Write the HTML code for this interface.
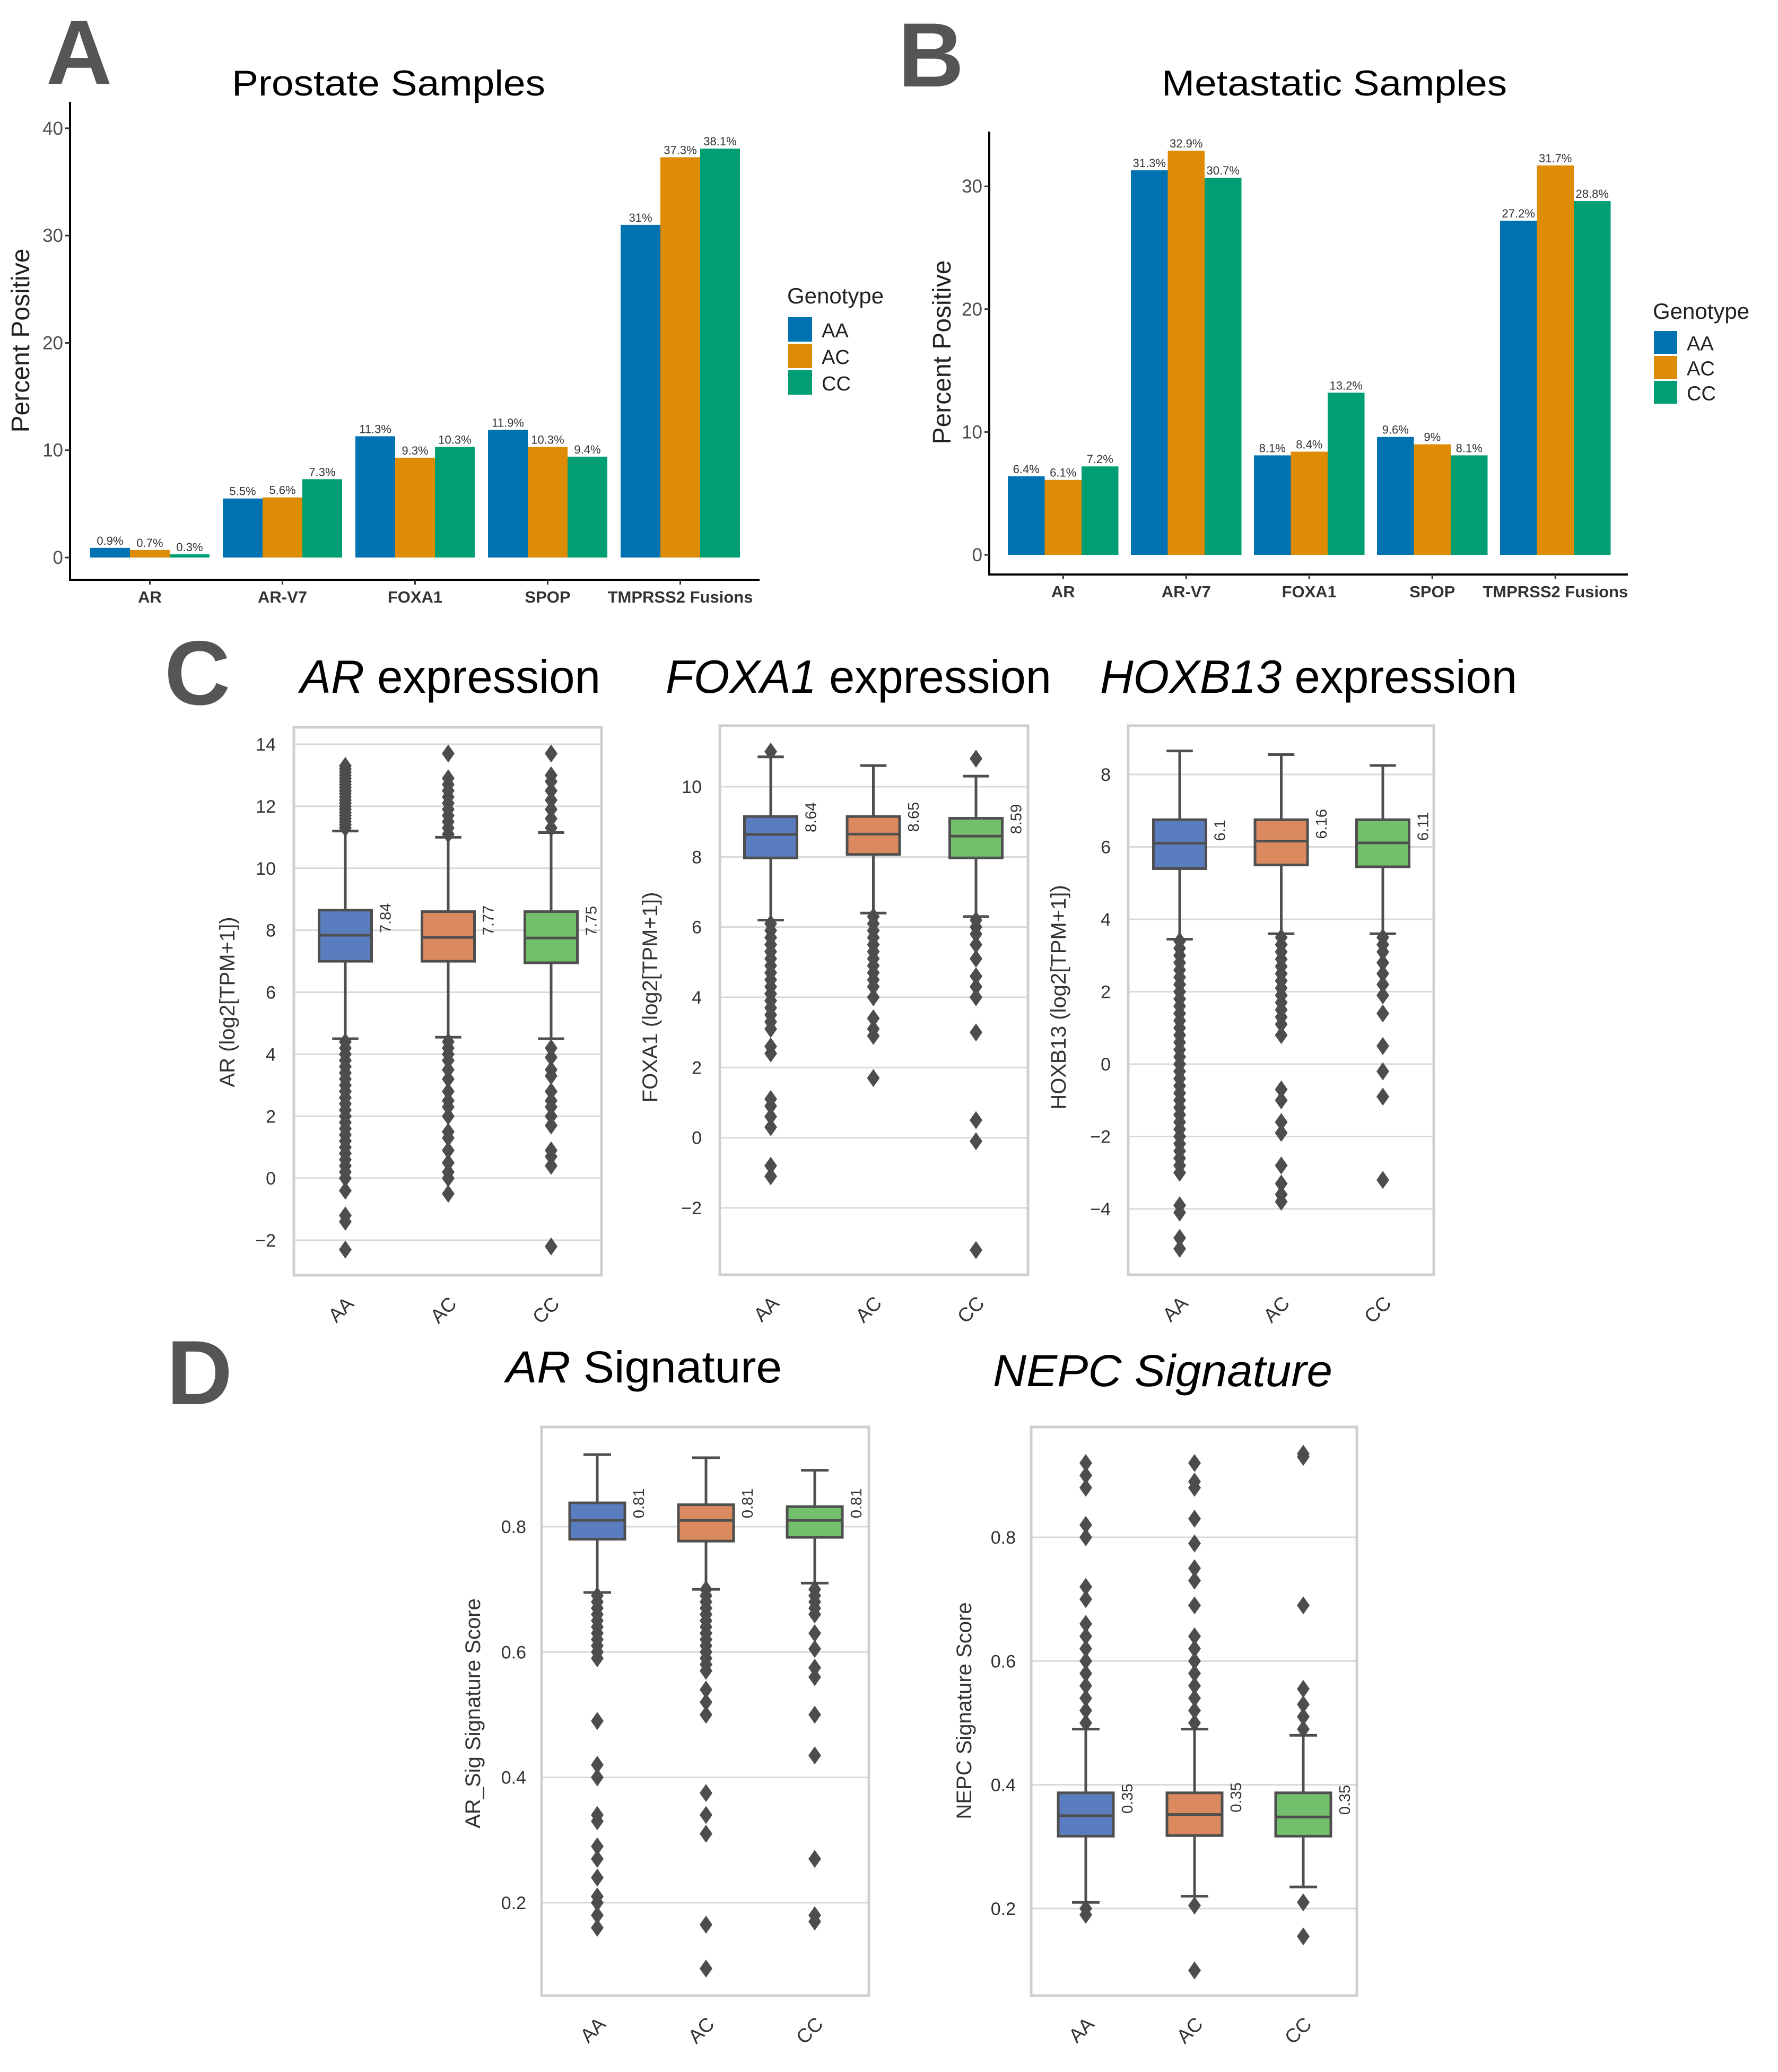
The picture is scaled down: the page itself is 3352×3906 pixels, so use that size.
<!DOCTYPE html>
<html><head><meta charset="utf-8">
<style>
html,body{margin:0;padding:0;background:#fff;}
svg{display:block;font-family:"Liberation Sans",sans-serif;}
</style></head>
<body>
<svg id="fig" width="3352" height="3906" viewBox="0 0 3352 3906" xmlns="http://www.w3.org/2000/svg">
<rect width="3352" height="3906" fill="#fff"/>
<g id="root"></g>
</svg>
<script>
// ---------- Data: bar charts ----------
const barCategories = ["AR","AR-V7","FOXA1","SPOP","TMPRSS2 Fusions"];
const genotypes = ["AA","AC","CC"];
const prostateAA = [0.9,5.5,11.3,11.9,31];
const prostateAC = [0.7,5.6,9.3,10.3,37.3];
const prostateCC = [0.3,7.3,10.3,9.4,38.1];
const prostateTicks = [0,10,20,30,40];
const metaAA = [6.4,31.3,8.1,9.6,27.2];
const metaAC = [6.1,32.9,8.4,9.0,31.7];
const metaCC = [7.2,30.7,13.2,8.1,28.8];
const metaTicks = [0,10,20,30];

// ---------- Data: box plots [whiskLo, q1, median, q3, whiskHi] ----------
const arExprStats = [[4.5,7.0,7.84,8.65,11.2],[4.55,7.0,7.77,8.6,11.0],[4.5,6.95,7.75,8.6,11.15]];
const arExprOut = [
 [11.3,11.4,11.5,11.6,11.7,11.8,11.9,12.0,12.1,12.2,12.3,12.4,12.5,12.6,12.7,12.8,12.9,13.0,13.1,13.2,13.3,4.4,4.2,4.0,3.8,3.6,3.4,3.2,3.0,2.8,2.6,2.4,2.2,2.0,1.8,1.6,1.4,1.2,1.0,0.8,0.6,0.4,0.2,0,-0.4,-1.2,-1.4,-2.3],
 [11.1,11.3,11.5,11.7,11.9,12.1,12.3,12.5,12.7,12.9,13.7,4.4,4.2,4.0,3.8,3.5,3.2,2.8,2.5,2.3,2.0,1.5,1.3,0.9,0.5,0.2,0,-0.5],
 [11.3,11.6,11.9,12.2,12.5,12.8,13.0,13.7,4.2,3.9,3.5,3.3,2.8,2.5,2.3,2.0,1.7,0.9,0.7,0.4,-2.2]];
const arExprTicks = [-2,0,2,4,6,8,10,12,14];

const foxaStats = [[6.2,7.97,8.64,9.15,10.85],[6.4,8.07,8.65,9.15,10.6],[6.3,7.97,8.59,9.1,10.3]];
const foxaOut = [
 [11.0,6.1,5.9,5.7,5.5,5.3,5.1,4.9,4.7,4.5,4.3,4.1,3.9,3.7,3.5,3.3,3.1,2.6,2.4,1.1,0.9,0.6,0.3,-0.8,-1.1],
 [6.3,6.1,5.9,5.7,5.5,5.3,5.1,4.9,4.7,4.5,4.3,4.0,3.4,3.1,2.9,1.7],
 [10.8,6.2,6.0,5.8,5.5,5.1,4.6,4.3,4.0,3.0,0.5,-0.1,-3.2]];
const foxaTicks = [-2,0,2,4,6,8,10];

const hoxStats = [[3.45,5.4,6.1,6.75,8.65],[3.6,5.5,6.16,6.75,8.55],[3.6,5.45,6.11,6.75,8.25]];
const hoxOut = [
 [3.4,3.2,3.0,2.8,2.6,2.4,2.2,2.0,1.8,1.6,1.4,1.2,1.0,0.8,0.6,0.4,0.2,0,-0.2,-0.4,-0.6,-0.8,-1.0,-1.2,-1.4,-1.6,-1.8,-2.0,-2.2,-2.4,-2.6,-2.8,-3.0,-3.9,-4.1,-4.8,-5.1],
 [3.5,3.3,3.1,2.9,2.7,2.5,2.3,2.1,1.9,1.7,1.5,1.3,1.1,0.8,-0.7,-1.0,-1.6,-1.9,-2.8,-3.3,-3.6,-3.8],
 [3.5,3.3,3.1,2.8,2.5,2.2,1.9,1.4,0.5,-0.2,-0.9,-3.2]];
const hoxTicks = [-4,-2,0,2,4,6,8];

const arSigStats = [[0.695,0.78,0.81,0.838,0.915],[0.70,0.777,0.81,0.835,0.91],[0.71,0.783,0.81,0.832,0.89]];
const arSigOut = [
 [0.69,0.68,0.67,0.66,0.65,0.64,0.63,0.62,0.61,0.60,0.59,0.49,0.42,0.40,0.34,0.33,0.29,0.27,0.24,0.21,0.20,0.18,0.16],
 [0.70,0.69,0.68,0.67,0.66,0.65,0.64,0.63,0.62,0.61,0.60,0.59,0.58,0.57,0.54,0.52,0.50,0.375,0.34,0.31,0.165,0.095],
 [0.70,0.69,0.68,0.67,0.66,0.63,0.605,0.575,0.56,0.50,0.435,0.27,0.18,0.17]];
const arSigTicks = [0.2,0.4,0.6,0.8];

const nepcStats = [[0.21,0.317,0.35,0.387,0.49],[0.22,0.318,0.352,0.387,0.49],[0.235,0.317,0.348,0.387,0.48]];
const nepcOut = [
 [0.50,0.52,0.54,0.56,0.58,0.60,0.62,0.64,0.66,0.70,0.72,0.80,0.82,0.88,0.90,0.92,0.20,0.19],
 [0.50,0.52,0.54,0.56,0.58,0.60,0.62,0.64,0.69,0.73,0.75,0.79,0.83,0.88,0.89,0.92,0.205,0.10],
 [0.49,0.51,0.53,0.555,0.69,0.93,0.935,0.21,0.155]];
const nepcTicks = [0.2,0.4,0.6,0.8];
const nepcMedLabels = ["0.35","0.35","0.35"];
const arSigMedLabels = ["0.81","0.81","0.81"];

// ---------- helpers ----------
const NS = "http://www.w3.org/2000/svg";
const root = document.getElementById("root");
function mk(tag, attrs, parent, txt){
  const e = document.createElementNS(NS, tag);
  for (const k in attrs) e.setAttribute(k, attrs[k]);
  if (txt !== undefined) e.textContent = txt;
  (parent || root).appendChild(e);
  return e;
}
function grp(name, parent){
  const g = mk("g", {}, parent);
  
  
  return g;
}

const barColors = ["#0072B2","#DE8C06","#009E73"];

function barChart(cfg, series){
  const g = grp(cfg.name);
  const y = v => cfg.y0 - v * cfg.pxPerUnit;
  const ax = mk("line",{x1:cfg.axX,y1:cfg.axTop,x2:cfg.axX,y2:cfg.axY+2,stroke:"#000","stroke-width":4},g);
  
  
  const bx = mk("line",{x1:cfg.axX-2,y1:cfg.axY,x2:cfg.axRight,y2:cfg.axY,stroke:"#000","stroke-width":4},g);
  
  
  cfg.ticks.forEach(t=>{
    mk("line",{x1:cfg.axX-9,y1:y(t),x2:cfg.axX,y2:y(t),stroke:"#333","stroke-width":3},g);
    const tl = mk("text",{x:cfg.axX-13,y:y(t)+12,"text-anchor":"end","font-size":35,fill:"#4d4d4d"},g,String(t));
    
    
  });
  barCategories.forEach((c,i)=>{
    const gx = cfg.g0 + i*cfg.gStep;
    const cx = gx + 1.5*cfg.bw;
    mk("line",{x1:cx,y1:cfg.axY,x2:cx,y2:cfg.axY+9,stroke:"#333","stroke-width":3},g);
    const cl = mk("text",{x:cx,y:cfg.axY+43,"text-anchor":"middle","font-size":31,"font-weight":"bold",fill:"#333"},g,c);
    
    
    series.forEach((s,j)=>{
      const v = s[i];
      const r = mk("rect",{x:gx+j*cfg.bw,y:y(v),width:cfg.bw,height:v*cfg.pxPerUnit,fill:barColors[j]},g);
      
      
      const vl = mk("text",{x:gx+j*cfg.bw+cfg.bw/2,y:y(v)-6,"text-anchor":"middle","font-size":22,fill:"#333"},g,v+"%");
      
      
    });
  });
  const yl = mk("text",{x:cfg.ylX,y:cfg.ylY,"text-anchor":"middle","font-size":48,fill:"#222",transform:`rotate(-90 ${cfg.ylX} ${cfg.ylY})`},g,"Percent Positive");
  
  
  const tt = mk("text",{x:cfg.titleX,y:cfg.titleY,"font-size":68,fill:"#000",textLength:cfg.titleW,lengthAdjust:"spacingAndGlyphs"},g,cfg.title);
  
  
  const lg = grp('legend', g);
  const lt = mk("text",{x:cfg.legX,y:cfg.legTitleY,"font-size":42,fill:"#222"},lg,"Genotype");
  
  
  genotypes.forEach((gt,j)=>{
    const ky = cfg.legKeyY + j*cfg.legStep;
    const k = mk("rect",{x:cfg.legX+2,y:ky,width:cfg.legKeyW,height:cfg.legStep-4,fill:barColors[j]},lg);
    
    
    const kt = mk("text",{x:cfg.legX+cfg.legKeyW+20,y:ky+cfg.legStep/2+13,"font-size":38,fill:"#222"},lg,gt);
    
    
  });
}

barChart({name:'panel-a-prostate-chart',y0:1051,pxPerUnit:20.23,axX:132,axTop:192,axY:1093,axRight:1432,ticks:prostateTicks,
  g0:170,gStep:250,bw:75,ylX:55,ylY:642,title:"Prostate Samples",titleX:437,titleY:180,titleW:591,
  legX:1484,legTitleY:572,legKeyY:598,legStep:50,legKeyW:45},[prostateAA,prostateAC,prostateCC]);
barChart({name:'panel-b-metastatic-chart',y0:1046,pxPerUnit:23.16,axX:1865,axTop:248,axY:1083,axRight:3069,ticks:metaTicks,
  g0:1900,gStep:232,bw:69.5,ylX:1792,ylY:664,title:"Metastatic Samples",titleX:2190,titleY:180,titleW:651,
  legX:3116,legTitleY:601,legKeyY:624,legStep:47,legKeyW:44},[metaAA,metaAC,metaCC]);

// ---------- box plots ----------
const boxColors = ["#5A7DC0","#DA8A5E","#72BF6C"];
function diamond(g,cx,cy){
  const d = mk("path",{d:`M${cx} ${cy-17} L${cx+12} ${cy} L${cx} ${cy+17} L${cx-12} ${cy} Z`,fill:"#4d4d4d"},g);
  
  
}
function boxChart(cfg, stats, outs, ticks, medLabels){
  const g = grp(cfg.name);
  const y = v => cfg.yRef - (v - cfg.vRef) * cfg.pxPerUnit;
  ticks.forEach(t=>{
    const gl = mk("line",{x1:cfg.fx0,y1:y(t),x2:cfg.fx1,y2:y(t),stroke:"#d9d9d9","stroke-width":3},g);
    
    
    const lbl = (t<0? "\u2212"+Math.abs(t) : String(t));
    const tl = mk("text",{x:cfg.tickX,y:y(t)+12,"text-anchor":"end","font-size":34,fill:"#333"},g,lbl);
    
    
  });
  const fr = mk("rect",{x:cfg.fx0,y:cfg.fy0,width:cfg.fx1-cfg.fx0,height:cfg.fy1-cfg.fy0,fill:"none",stroke:"#cfcfcf","stroke-width":5},g);
  
  
  genotypes.forEach((gt,i)=>{
    const cx = cfg.c0 + i*cfg.cStep;
    const s = stats[i], bw = cfg.bw;
    const bg = grp('box-'+gt.toLowerCase(), g);
    mk("line",{x1:cx,y1:y(s[0]),x2:cx,y2:y(s[1]),stroke:"#4f4f4f","stroke-width":5},bg);
    mk("line",{x1:cx,y1:y(s[3]),x2:cx,y2:y(s[4]),stroke:"#4f4f4f","stroke-width":5},bg);
    mk("line",{x1:cx-bw/4,y1:y(s[0]),x2:cx+bw/4,y2:y(s[0]),stroke:"#4f4f4f","stroke-width":5},bg);
    mk("line",{x1:cx-bw/4,y1:y(s[4]),x2:cx+bw/4,y2:y(s[4]),stroke:"#4f4f4f","stroke-width":5},bg);
    const r = mk("rect",{x:cx-bw/2,y:y(s[3]),width:bw,height:y(s[1])-y(s[3]),fill:boxColors[i],stroke:"#4f4f4f","stroke-width":5},bg);
    
    
    mk("line",{x1:cx-bw/2,y1:y(s[2]),x2:cx+bw/2,y2:y(s[2]),stroke:"#4f4f4f","stroke-width":5},bg);
    outs[i].forEach(v=>diamond(bg,cx,y(v)));
    const mx = cx+bw/2+36, my = y(s[2])-4;
    const ml = mk("text",{x:mx,y:my,"font-size":29,fill:"#333",transform:`rotate(-90 ${mx} ${my})`},bg,medLabels ? medLabels[i] : String(s[2]));
    
    
    const lx = cx+18, ly = cfg.fy1+56;
    const cl = mk("text",{x:lx,y:ly,"text-anchor":"end","font-size":37,fill:"#333",transform:`rotate(-45 ${lx} ${ly})`},g,gt);
    
    
  });
  const yl = mk("text",{x:cfg.ylX,y:cfg.ylY,"text-anchor":"middle","font-size":40,fill:"#333",transform:`rotate(-90 ${cfg.ylX} ${cfg.ylY})`},g,cfg.ylabel);
  
  
  const tt = mk("text",{x:cfg.tX,y:cfg.tY,"font-size":cfg.tSize,fill:"#000",textLength:cfg.tW,lengthAdjust:"spacingAndGlyphs"},g);
  
  
  mk("tspan",{"font-style":"italic"},tt,cfg.tItal);
  if (cfg.tRest) mk("tspan",{"font-style":cfg.tRestItal?"italic":"normal"},tt,cfg.tRest);
}

boxChart({name:'panel-c-ar-expression',fx0:554,fx1:1134,fy0:1371,fy1:2404,yRef:1403,vRef:14,pxPerUnit:58.44,
  c0:651,cStep:194,bw:99,tickX:520,ylX:442,ylY:1889,ylabel:"AR (log2[TPM+1])",
  tX:566,tY:1306,tW:566,tSize:88,tItal:"AR",tRest:" expression"},arExprStats,arExprOut,arExprTicks);
boxChart({name:'panel-c-foxa1-expression',fx0:1357,fx1:1938,fy0:1368,fy1:2403,yRef:1483,vRef:10,pxPerUnit:66.17,
  c0:1453,cStep:193.5,bw:99,tickX:1323,ylX:1239,ylY:1880,ylabel:"FOXA1 (log2[TPM+1])",
  tX:1255,tY:1306,tW:727,tSize:88,tItal:"FOXA1",tRest:" expression"},foxaStats,foxaOut,foxaTicks);
boxChart({name:'panel-c-hoxb13-expression',fx0:2127,fx1:2703,fy0:1368,fy1:2403,yRef:1460,vRef:8,pxPerUnit:68.25,
  c0:2224,cStep:191.5,bw:99,tickX:2094,ylX:2009,ylY:1880,ylabel:"HOXB13 (log2[TPM+1])",
  tX:2074,tY:1306,tW:786,tSize:88,tItal:"HOXB13",tRest:" expression"},hoxStats,hoxOut,hoxTicks);
boxChart({name:'panel-d-ar-signature',fx0:1021,fx1:1638,fy0:2690,fy1:3762,yRef:2878,vRef:0.8,pxPerUnit:1181.5,
  c0:1126,cStep:205,bw:104,tickX:992,ylX:905,ylY:3230,ylabel:"AR_Sig Signature Score",
  tX:954,tY:2606,tW:520,tSize:84,tItal:"AR",tRest:" Signature"},arSigStats,arSigOut,arSigTicks,arSigMedLabels);
boxChart({name:'panel-d-nepc-signature',fx0:1944,fx1:2558,fy0:2690,fy1:3762,yRef:2898,vRef:0.8,pxPerUnit:1166.5,
  c0:2047,cStep:205,bw:104,tickX:1915,ylX:1831,ylY:3225,ylabel:"NEPC Signature Score",
  tX:1872,tY:2613,tW:640,tSize:84,tItal:"NEPC Signature",tRest:""},nepcStats,nepcOut,nepcTicks,nepcMedLabels);

// panel letters
[["A",87,158],["B",1693,163],["C",310,1328],["D",314,2647]].forEach(p=>{
  const t = mk("text",{x:p[1],y:p[2],"font-size":172,"font-weight":"bold",fill:"#555"},root,p[0]);
  
  
});
</script>
</body></html>
